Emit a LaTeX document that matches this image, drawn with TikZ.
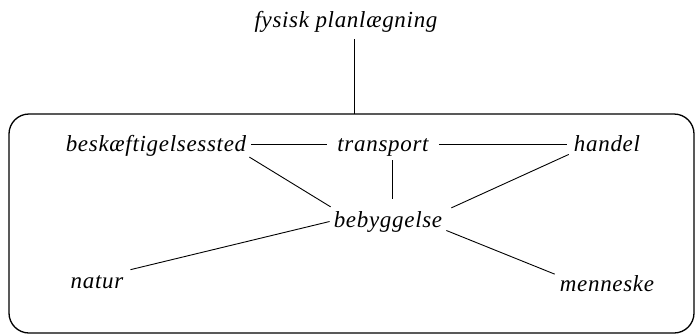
\documentclass[tikz,border=0pt]{standalone}
\usepackage{fontspec}
\setmainfont{Liberation Serif}
\begin{document}
\begin{tikzpicture}[x=1pt,y=-1pt,
  lbl/.style={font=\fontsize{23}{27}\selectfont\itshape\addfontfeature{LetterSpace=3}, inner sep=0pt, anchor=base},
  conn/.style={line width=0.9pt},
  frame/.style={line width=1.3pt, rounded corners=20pt}]
\useasboundingbox (0,0) rectangle (697,335);
\node[lbl] (plan) at (346,27) {fysisk planlægning};
\node[lbl] (besk) at (156,151) {beskæftigelsessted};
\node[lbl] (trans) at (383,151) {transport};
\node[lbl] (hand) at (607,151) {handel};
\node[lbl] (beby) at (388,227) {bebyggelse};
\node[lbl] (natur) at (97,288) {natur};
\node[lbl] (menn) at (607,291) {menneske};
\draw[frame] (9,114) rectangle (694,333);
\coordinate (top) at (354,114);
\draw[conn] ([shift={(8,7)}]plan.south) -- (top);
\draw[conn] ([shift={(5,-1)}]besk.east) -- ([shift={(-10,-1)}]besk.east -| trans.west);
\draw[conn] ([shift={(10,-1)}]besk.east -| trans.east) -- ([shift={(-7,-1)}]besk.east -| hand.west);
\draw[conn] ([shift={(3,1)}]besk.south east) -- ([shift={(-3,-4)}]beby.north west);
\draw[conn] ([shift={(9,4)}]trans.south) -- ([shift={(4,-12)}]beby.north);
\draw[conn] ([shift={(-5,3)}]hand.south west) -- ([shift={(9,-3)}]beby.north east);
\draw[conn] ([shift={(7,-12)}]natur.east) -- ([shift={(-4,0)}]beby.west);
\draw[conn] ([shift={(4,9)}]beby.east) -- ([shift={(-5,-9)}]menn.west);
\end{tikzpicture}
\end{document}
